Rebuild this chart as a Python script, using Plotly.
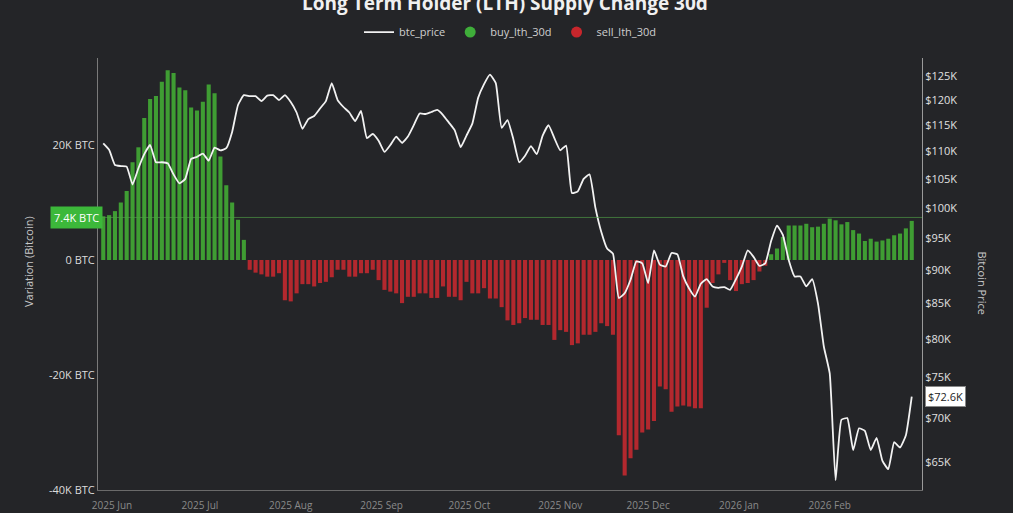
import math
import pandas as pd
import plotly.graph_objects as go

# ---------------- data ----------------
start_date = "2025-05-29"   # first sample, one sample every 2 days

# BTC price, thousands of USD
btc_price_k = [
    111.5, 110.3, 107.5, 107.3, 107.2, 104.0, 106.9, 109.5, 111.2, 108.0,
    108.0, 107.8, 105.8, 104.2, 105.0, 108.6, 109.0, 109.6, 108.3, 110.7,
    110.2, 110.6, 113.7, 119.0, 121.0, 120.8, 120.8, 119.8, 120.9, 121.0,
    120.0, 121.0, 119.6, 117.5, 114.3, 116.2, 116.8, 118.3, 119.8, 123.5,
    120.0, 118.6, 117.5, 115.8, 117.8, 112.5, 113.3, 112.0, 109.9, 111.2,
    112.8, 111.6, 112.8, 115.0, 117.3, 117.2, 117.6, 118.0, 117.0, 115.5,
    114.0, 110.8, 113.0, 115.3, 120.5, 123.3, 125.3, 123.5, 114.5, 116.0,
    112.3, 108.0, 109.2, 111.0, 109.5, 113.0, 115.0, 112.5, 110.2, 111.1,
    102.5, 102.8, 105.0, 105.8, 100.0, 96.0, 93.3, 92.5, 85.8, 86.5,
    88.5, 91.3, 91.0, 88.0, 93.0, 90.8, 90.5, 92.6, 92.4, 89.0,
    87.2, 86.0, 87.9, 88.6, 87.5, 87.3, 87.4, 87.0, 88.6, 90.5,
    93.0, 92.0, 90.6, 91.0, 94.5, 97.0, 95.5, 91.5, 89.0, 89.0,
    87.5, 88.6, 85.0, 79.0, 75.5, 63.0, 69.8, 70.0, 66.3, 68.8,
    68.5, 66.3, 67.7, 65.1, 64.2, 67.2, 66.6, 68.0, 72.6,
]

# LTH supply change over 30 days, thousands of BTC
lth_change_k = [
    7.6, 7.8, 8.5, 10.0, 12.0, 17.0, 19.6, 24.7, 28.0, 28.5,
    31.0, 33.0, 32.5, 30.0, 29.5, 26.5, 26.0, 27.5, 30.5, 29.0,
    18.0, 13.0, 10.0, 7.0, 3.5, -1.7, -2.2, -2.5, -2.9, -2.9,
    -2.3, -7.0, -7.2, -5.8, -4.2, -4.2, -4.6, -4.0, -3.8, -3.0,
    -1.7, -1.7, -2.9, -2.9, -2.3, -2.3, -1.7, -3.5, -5.2, -5.5,
    -5.8, -7.5, -6.4, -6.4, -5.8, -5.8, -6.6, -6.6, -4.6, -6.4,
    -6.4, -7.0, -3.8, -5.8, -5.8, -4.9, -6.7, -6.7, -8.2, -10.5,
    -11.3, -11.0, -10.1, -10.4, -10.4, -11.3, -11.3, -13.9, -12.2, -12.5,
    -14.8, -14.5, -13.0, -13.0, -12.5, -11.0, -11.5, -13.0, -30.5, -37.5,
    -34.5, -33.0, -30.0, -29.5, -28.0, -22.0, -22.5, -26.4, -25.5, -25.3,
    -25.5, -25.8, -25.8, -8.3, -4.0, -2.5, -0.5, -3.5, -5.4, -4.2,
    -4.0, -3.5, -2.0, -1.0, 1.0, 2.0, 4.0, 6.0, 6.0, 6.0,
    6.3, 5.7, 5.8, 6.3, 7.2, 6.9, 6.2, 6.6, 5.2, 4.6,
    3.3, 3.7, 3.2, 3.4, 3.7, 4.3, 4.6, 5.5, 6.8,
]

month_ticks = ["2025-06-01", "2025-07-01", "2025-08-01", "2025-09-01", "2025-10-01",
               "2025-11-01", "2025-12-01", "2026-01-01", "2026-02-01"]
left_tick_vals = [-40000, -20000, 0, 20000]
left_tick_text = ["-40K BTC", "-20K BTC", "0 BTC", "20K BTC"]
right_tick_vals = [65000, 70000, 75000, 80000, 85000, 90000, 95000, 100000,
                   105000, 110000, 115000, 120000, 125000]
right_tick_text = ["$65K", "$70K", "$75K", "$80K", "$85K", "$90K", "$95K", "$100K",
                   "$105K", "$110K", "$115K", "$120K", "$125K"]
marker_level = 7400
last_price = 72600

# ---------------- build ----------------
dates = pd.date_range(start_date, periods=len(btc_price_k), freq="2D")
price = [v * 1000 for v in btc_price_k]
buy = [v * 1000 if v > 0 else None for v in lth_change_k]
sell = [v * 1000 if v < 0 else None for v in lth_change_k]

GREEN = "#3f9d33"
RED = "#b3282e"
BG = "#242528"
FONT = "Open Sans"

fig = go.Figure()
fig.add_trace(go.Bar(x=dates, y=buy, marker=dict(color=GREEN, line=dict(width=0)),
                     showlegend=False, name="buy_lth_30d", yaxis="y"))
fig.add_trace(go.Bar(x=dates, y=sell, marker=dict(color=RED, line=dict(width=0)),
                     showlegend=False, name="sell_lth_30d", yaxis="y"))
fig.add_trace(go.Scatter(x=dates, y=price, mode="lines", name="btc_price",
                         line=dict(color="#f2f2f2", width=1.8, shape="spline",
                                   smoothing=0.4),
                         yaxis="y2", legendrank=1))
fig.add_trace(go.Scatter(x=[None], y=[None], mode="markers", name="buy_lth_30d",
                         marker=dict(color="#3fae3a", size=11), legendrank=2))
fig.add_trace(go.Scatter(x=[None], y=[None], mode="markers", name="sell_lth_30d",
                         marker=dict(color="#c8262c", size=11), legendrank=3))

fig.update_layout(
    width=1013, height=513,
    margin=dict(l=98, r=91, t=58, b=23),
    paper_bgcolor=BG, plot_bgcolor=BG,
    font=dict(family=FONT, color="#d0d0d0", size=11),
    bargap=0.3, barmode="relative",
    showlegend=True,
    legend=dict(orientation="h", x=0.5, xanchor="center", y=1.06, yanchor="middle",
                font=dict(size=11, color="#cfcfcf"), bgcolor="rgba(0,0,0,0)",
                itemwidth=30),
    xaxis=dict(
        type="date", range=["2025-05-27 05:00", "2026-03-04 12:00"],
        tickvals=month_ticks, tickformat="%Y %b", ticklabelstandoff=6,
        showgrid=False, zeroline=False, showline=True, linecolor="#6a6a6a",
        ticks="", tickfont=dict(size=10, color="#8a8a8a"), automargin=False,
    ),
    yaxis=dict(
        range=[-40000, 35130], tickvals=left_tick_vals, ticktext=left_tick_text,
        showgrid=False, zeroline=False, showline=True, linecolor="#7a7a7a",
        ticks="", tickfont=dict(size=11, color="#dcdcdc"), automargin=False,
    ),
    yaxis2=dict(
        type="log", overlaying="y", side="right",
        range=[math.log10(61970), math.log10(128870)],
        tickvals=right_tick_vals, ticktext=right_tick_text,
        showgrid=False, zeroline=False, showline=True, linecolor="#9a9a9a",
        ticks="", tickfont=dict(size=11, color="#e0e0e0"), automargin=False,
    ),
    shapes=[dict(type="line", xref="paper", x0=0, x1=1, yref="y",
                 y0=marker_level, y1=marker_level,
                 line=dict(color="rgba(80,160,70,0.65)", width=1))],
    annotations=[
        dict(text="<b>Long Term Holder (LTH) Supply Change 30d</b>",
             xref="paper", yref="paper", x=0.494, y=1.127, xanchor="center",
             yanchor="middle", showarrow=False,
             font=dict(size=19, color="#f0f0f0", family=FONT)),
        dict(text="Variation (Bitcoin)", xref="paper", yref="paper",
             x=-0.085, y=0.53, xanchor="center", yanchor="middle",
             textangle=-90, showarrow=False, font=dict(size=11, color="#c8c8c8")),
        dict(text="Bitcoin Price", xref="paper", yref="paper",
             x=1.073, y=0.48, xanchor="center", yanchor="middle",
             textangle=90, showarrow=False, font=dict(size=11, color="#c8c8c8")),
        dict(text="7.4K BTC", xref="paper", yref="y", x=0, y=marker_level,
             xanchor="right", yanchor="middle", xshift=5, showarrow=False,
             bgcolor="#3cb83a", borderpad=3, font=dict(size=11, color="#ffffff")),
        dict(text="$72.6K", xref="paper", yref="y2", x=1, y=math.log10(last_price),
             xanchor="left", yanchor="middle", xshift=3, showarrow=False,
             bgcolor="#ffffff", bordercolor="#888888", borderwidth=1, borderpad=2,
             font=dict(size=11, color="#222222")),
    ],
)

fig.write_html(
    "out.html",
    config={"displayModeBar": False},
    post_script="document.body.style.margin='0';document.body.style.overflow='hidden';",
)
